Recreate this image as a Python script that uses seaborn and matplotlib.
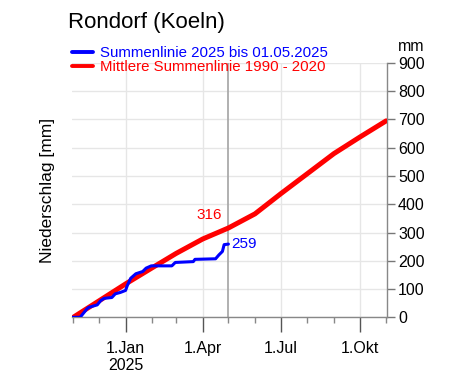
import matplotlib
matplotlib.use("Agg")
import matplotlib.pyplot as plt
import matplotlib.dates as mdates
import numpy as np
import pandas as pd
import seaborn as sns

# Summenlinie 2025 (daily cumulative)
sum_dates = ["2024-10-31", "2024-11-09", "2024-11-17", "2024-11-19", "2024-11-29",
             "2024-12-03", "2024-12-07", "2024-12-16", "2024-12-20", "2024-12-26",
             "2025-01-01", "2025-01-03", "2025-01-07", "2025-01-13", "2025-01-21",
             "2025-01-25", "2025-01-31", "2025-02-24", "2025-02-28", "2025-03-21",
             "2025-03-23", "2025-04-16", "2025-04-20", "2025-04-24", "2025-04-26",
             "2025-05-01"]
sum_values = [0, 0, 30, 35, 44, 59, 67, 70, 83, 88, 95, 112, 138, 154, 162,
              174, 182, 182, 194, 197, 205, 207, 221, 233, 257, 259]

# Mittlere Summenlinie 1990 - 2020 (monthly)
mean_dates = ["2024-11-01", "2024-12-01", "2025-01-01", "2025-02-01", "2025-03-01",
              "2025-04-01", "2025-05-01", "2025-06-01", "2025-07-01", "2025-08-01",
              "2025-09-01", "2025-10-01", "2025-11-01"]
mean_values = [0, 58, 118, 175, 226, 277, 316, 366, 437, 508, 579, 637, 695]

tick_dates = ["2025-01-01", "2025-04-01", "2025-07-01", "2025-10-01"]
tick_labels = ["1.Jan\n2025", "1.Apr", "1.Jul", "1.Okt"]
current_date = "2025-05-01"
mean_at_current = 316
sum_at_current = 259

sns.set_style("white")
plt.rcParams["font.family"] = ["Liberation Sans", "DejaVu Sans"]
plt.rcParams["text.color"] = "black"
plt.rcParams["axes.labelcolor"] = "black"
plt.rcParams["xtick.labelcolor"] = "black"
plt.rcParams["ytick.labelcolor"] = "black"

fig = plt.figure(figsize=(4.5, 3.86), dpi=100)
ax = fig.add_axes([0.159, 0.178, 0.701, 0.659])

sum_df = pd.DataFrame({"date": pd.to_datetime(sum_dates), "mm": sum_values})
mean_df = pd.DataFrame({"date": pd.to_datetime(mean_dates), "mm": mean_values})

ax.grid(True, axis="y", color="#e6e6e6", linewidth=1)
for d in tick_dates:
    ax.axvline(pd.Timestamp(d), color="#e6e6e6", linewidth=1, zorder=0)
ax.axvline(pd.Timestamp(current_date), color="#aaaaaa", linewidth=1.3, zorder=1)

sns.lineplot(data=mean_df, x="date", y="mm", ax=ax, color="red", linewidth=3.6,
             label="Mittlere Summenlinie 1990 - 2020", zorder=3)
sns.lineplot(data=sum_df, x="date", y="mm", ax=ax, color="blue", linewidth=2.2,
             label="Summenlinie 2025 bis 01.05.2025", zorder=4)

ax.annotate(str(mean_at_current), xy=(pd.Timestamp(current_date), mean_at_current),
            xytext=(-5, 4), textcoords="offset points", ha="right", va="bottom",
            color="red", fontsize=11)
ax.annotate(str(sum_at_current), xy=(pd.Timestamp(current_date), sum_at_current),
            xytext=(2, 0), textcoords="offset points", ha="left", va="center",
            color="blue", fontsize=11)

ax.set_xlim(pd.Timestamp("2024-10-30"), pd.Timestamp("2025-11-02"))
ax.set_ylim(0, 900)
ax.set_yticks(np.arange(0, 901, 100))
ax.yaxis.tick_right()
ax.yaxis.set_label_position("left")
ax.set_ylabel("Niederschlag [mm]", fontsize=12.5, labelpad=12)
ax.set_xlabel("")

ax.set_xticks(pd.to_datetime(tick_dates))
ax.set_xticklabels(tick_labels)
ax.xaxis.set_minor_locator(mdates.MonthLocator())
ax.tick_params(axis="x", which="major", length=11, width=1, color="#555555",
               labelsize=11.5, pad=6, direction="out", bottom=True)
ax.tick_params(axis="x", which="minor", length=4, width=1, color="#888888",
               direction="out", bottom=True)
ax.tick_params(axis="y", which="major", length=6, width=1, color="#777777",
               labelsize=11.5, right=True, left=False, direction="out", pad=2)

for side in ["left", "top"]:
    ax.spines[side].set_visible(False)
for side in ["right", "bottom"]:
    ax.spines[side].set_color("#888888")
    ax.spines[side].set_linewidth(1)

ax.text(1.035, 1.035, "mm", transform=ax.transAxes, fontsize=11.5, ha="left", va="bottom")
fig.text(0.151, 0.915, "Rondorf (Koeln)", fontsize=16, ha="left", va="bottom")

handles, labels = ax.get_legend_handles_labels()
leg = ax.legend(handles[::-1], labels[::-1], loc="lower left",
                bbox_to_anchor=(0.0, 0.955), frameon=False, fontsize=10.8,
                handlelength=1.4, handletextpad=0.5, labelspacing=0.02,
                borderaxespad=0, borderpad=0)
for line in leg.get_lines():
    line.set_linewidth(2.8)
for text, col in zip(leg.get_texts(), ["blue", "red"]):
    text.set_color(col)

fig.savefig("out.png", dpi=100)
